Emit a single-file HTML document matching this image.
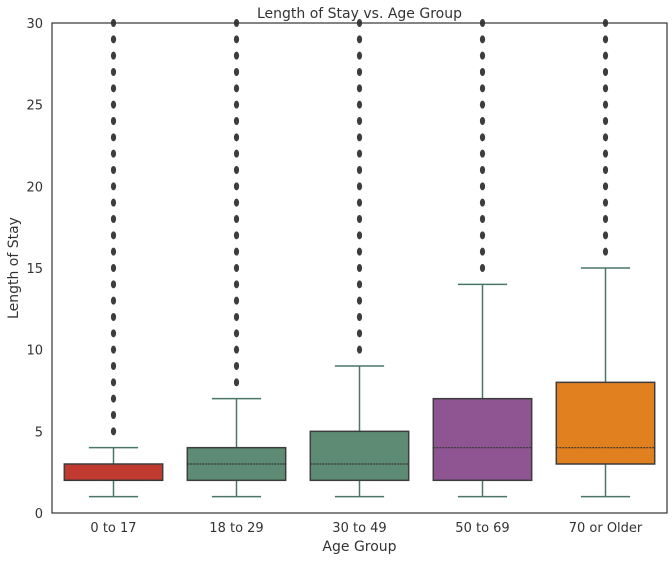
<!DOCTYPE html>
<html><head><meta charset="utf-8"><style>
body{margin:0;background:#fff;font-family:"Liberation Sans",sans-serif;}
svg text{font-family:"DejaVu Sans","Liberation Sans",sans-serif;fill:#333;}
</style></head><body>
<svg id="c" width="672" height="561"></svg>
<script>
const categories=["0 to 17","18 to 29","30 to 49","50 to 69","70 or Older"];
const whiskerLow=[1,1,1,1,1];
const q1=[2,2,2,2,3];
const medians=[2,3,3,4,4];
const q3=[3,4,5,7,8];
const whiskerHigh=[4,7,9,14,15];
const outlierStart=[5,8,10,15,16];
const outlierEnd=[30,30,30,30,30];
const colors=["#c03a2f","#5e8b74","#5e8b74","#8e5592","#e0801f"];
const yTicks=[0,5,10,15,20,25,30];
const L=52,R=667,T=23,B=513,yMax=30;
const ns="http://www.w3.org/2000/svg",svg=document.getElementById('c');
const y=v=>B-(v/yMax)*(B-T);
const step=(R-L)/categories.length;
const x=i=>L+step*(i+0.5);
function mk(t,a,p){const e=document.createElementNS(ns,t);for(const k in a)e.setAttribute(k,a[k]);(p||svg).appendChild(e);return e;}
const lc="#4a7668";
categories.forEach((c,i)=>{
  const cx=x(i),bw=step*0.8,cw=bw/2;
  const g=mk('g',{});
  
  
  mk('line',{x1:cx,x2:cx,y1:y(whiskerLow[i]),y2:y(q1[i]),stroke:lc,'stroke-width':1.5},g);
  mk('line',{x1:cx,x2:cx,y1:y(q3[i]),y2:y(whiskerHigh[i]),stroke:lc,'stroke-width':1.5},g);
  mk('line',{x1:cx-cw/2,x2:cx+cw/2,y1:y(whiskerLow[i]),y2:y(whiskerLow[i]),stroke:lc,'stroke-width':1.5},g);
  mk('line',{x1:cx-cw/2,x2:cx+cw/2,y1:y(whiskerHigh[i]),y2:y(whiskerHigh[i]),stroke:lc,'stroke-width':1.5},g);
  mk('rect',{x:cx-bw/2,y:y(q3[i]),width:bw,height:y(q1[i])-y(q3[i]),fill:colors[i],stroke:"#3d3d3d",'stroke-width':1.5},g);
  mk('line',{x1:cx-bw/2,x2:cx+bw/2,y1:y(medians[i]),y2:y(medians[i]),stroke:"#333",'stroke-width':1.2,'stroke-dasharray':'2,1'},g);
  for(let v=outlierStart[i];v<=outlierEnd[i];v++){
    const d=mk('ellipse',{cx:cx,cy:y(v),rx:2.6,ry:4,fill:"#3d3d3d"},g);
    
    
  }
  const t=mk('text',{x:cx,y:532,'text-anchor':'middle','font-size':13});
  t.textContent=c;
  
  
});
yTicks.forEach(v=>{
  const t=mk('text',{x:43,y:y(v)+5,'text-anchor':'end','font-size':13});
  t.textContent=v;
  
  
});
const f=mk('rect',{x:L,y:T,width:R-L,height:B-T,fill:'none',stroke:'#333','stroke-width':1.2});


const tt=mk('text',{x:(L+R)/2,y:18,'text-anchor':'middle','font-size':14});tt.textContent="Length of Stay vs. Age Group";

const xt=mk('text',{x:(L+R)/2,y:551,'text-anchor':'middle','font-size':14});xt.textContent="Age Group";

const yt=mk('text',{x:18,y:(T+B)/2,'text-anchor':'middle','font-size':14,transform:`rotate(-90 18 ${(T+B)/2})`});yt.textContent="Length of Stay";

</script>
</body></html>
